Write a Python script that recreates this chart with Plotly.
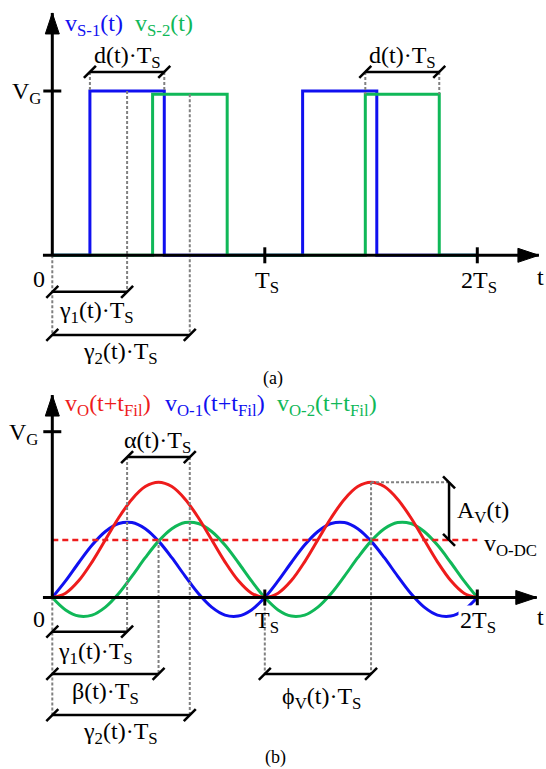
import plotly.graph_objects as go

# ---------------- data ----------------
# panel (a): gate signals (time in units of Ts, amplitude in units of VG)
T_S1 = [0.0, 0.177, 0.527, 1.178, 1.527, 2.0]
V_S1 = [0, 1.0, 0, 1.0, 0, 0]
T_S2 = [0.0, 0.472, 0.823, 1.473, 1.821, 2.0]
V_S2 = [0, 0.98, 0, 0.98, 0, 0]

# panel (b): filtered output voltages
T_W = [0.0, 0.0625, 0.125, 0.1875, 0.25, 0.3125, 0.375, 0.4375, 0.5, 0.5625, 0.625,
       0.6875, 0.75, 0.8125, 0.875, 0.9375, 1.0, 1.0625, 1.125, 1.1875, 1.25, 1.3125,
       1.375, 1.4375, 1.5, 1.5625, 1.625, 1.6875, 1.75, 1.8125, 1.875, 1.9375, 2.0]
V_O1 = [0.000, 0.100, 0.211, 0.316, 0.398, 0.446, 0.452, 0.415, 0.340, 0.240, 0.129,
        0.024, -0.058, -0.106, -0.112, -0.075, 0.000, 0.100, 0.211, 0.316, 0.398, 0.446,
        0.452, 0.415, 0.340, 0.240, 0.129, 0.024, -0.058, -0.106, -0.112, -0.075, 0.000]
V_O2 = [0.000, -0.075, -0.112, -0.106, -0.058, 0.024, 0.129, 0.240, 0.340, 0.415, 0.452,
        0.446, 0.398, 0.316, 0.211, 0.100, 0.000, -0.075, -0.112, -0.106, -0.058, 0.024,
        0.129, 0.240, 0.340, 0.415, 0.452, 0.446, 0.398, 0.316, 0.211, 0.100, 0.000]
V_O = [0.000, 0.026, 0.102, 0.215, 0.348, 0.481, 0.593, 0.669, 0.695, 0.669, 0.593,
       0.481, 0.348, 0.215, 0.102, 0.026, 0.000, 0.026, 0.102, 0.215, 0.348, 0.481,
       0.593, 0.669, 0.695, 0.669, 0.593, 0.481, 0.348, 0.215, 0.102, 0.026, 0.000]
V_DC = 0.3475
V_PEAK = 0.695
T_PEAK = 1.5

GAMMA1 = 0.352
GAMMA2 = 0.647
BETA = 0.5
AV_T = 1.867
X_TICKS = [1.0, 2.0]
X_TICK_LABELS = ["T<sub>S</sub>", "2T<sub>S</sub>"]

# ---------------- style ----------------
BLUE = "#1010f0"
GREEN = "#10b858"
RED = "#ee1c1c"
GRAY = "#808080"
FONT = "Liberation Serif"
FS = 24

fig = go.Figure()

fig.add_trace(go.Scatter(x=T_S1, y=V_S1, mode="lines", line=dict(color=BLUE, width=3, shape="hv"),
                         xaxis="x", yaxis="y"))
fig.add_trace(go.Scatter(x=T_S2, y=V_S2, mode="lines", line=dict(color=GREEN, width=3, shape="hv"),
                         xaxis="x", yaxis="y"))
fig.add_trace(go.Scatter(x=T_W, y=V_O1, mode="lines", line=dict(color=BLUE, width=3, shape="spline"),
                         xaxis="x", yaxis="y2"))
fig.add_trace(go.Scatter(x=T_W, y=V_O2, mode="lines", line=dict(color=GREEN, width=3, shape="spline"),
                         xaxis="x", yaxis="y2"))
fig.add_trace(go.Scatter(x=T_W, y=V_O, mode="lines", line=dict(color=RED, width=3, shape="spline"),
                         xaxis="x", yaxis="y2"))

shapes = []
annos = []


def line(x0, y0, x1, y1, yref, color="black", width=3, dash=None):
    d = dict(type="line", xref="x", yref=yref, x0=x0, y0=y0, x1=x1, y1=y1,
             line=dict(color=color, width=width))
    if dash:
        d["line"]["dash"] = dash
    shapes.append(d)


def gdash(x0, y0, x1, y1, yref):
    line(x0, y0, x1, y1, yref, color=GRAY, width=2, dash="3px,2px")


def pix_line(x, y, yref, dx0, dy0, dx1, dy1, width=2.5):
    shapes.append(dict(type="line", xref="x", yref=yref, xsizemode="pixel", ysizemode="pixel",
                       xanchor=x, yanchor=y, x0=dx0, y0=dy0, x1=dx1, y1=dy1,
                       line=dict(color="black", width=width)))


def pix_path(x, y, yref, path):
    shapes.append(dict(type="path", xref="x", yref=yref, xsizemode="pixel", ysizemode="pixel",
                       xanchor=x, yanchor=y, path=path, fillcolor="black",
                       line=dict(color="black", width=1)))


def dim_h(x0, x1, y, yref):
    line(x0, y, x1, y, yref, width=2.5)
    pix_line(x0, y, yref, -6, -6, 6, 6)
    pix_line(x1, y, yref, -6, -6, 6, 6)


def dim_v(x, y0, y1, yref):
    line(x, y0, x, y1, yref, width=2.5)
    pix_line(x, y0, yref, -6, 6, 6, -6)
    pix_line(x, y1, yref, -6, 6, 6, -6)


def text(x, y, s, yref, color="black", size=FS, xanchor="center", yanchor="middle", bg=None):
    a = dict(x=x, y=y, xref="x", yref=yref, text=s, showarrow=False, xanchor=xanchor,
             yanchor=yanchor, font=dict(family=FONT, size=size, color=color))
    if bg:
        a["bgcolor"] = bg
    annos.append(a)


def axes(yref, ytop, xtip):
    # y axis with arrow
    line(0, 0, 0, ytop, yref)
    pix_path(0, ytop, yref, "M -7,-21 L 7,-21 L 0,0 Z")
    # x axis with arrow
    line(-0.044, 0, xtip, 0, yref)
    pix_path(xtip, 0, yref, "M -21,-7 L -21,7 L 0,0 Z")
    # VG tick
    pix_line(0, 1.0, yref, -9, 0, 9, 0, width=3)
    for xt in X_TICKS:
        pix_line(xt, 0, yref, 0, -8, 0, 8, width=3)


# ---------- panel (a) ----------
ya = "y"
gdash(0, 0, 0, -0.485, ya)
gdash(GAMMA1, 1.0, GAMMA1, -0.222, ya)
gdash(GAMMA2, 0.98, GAMMA2, -0.485, ya)
gdash(T_S1[1], 1.116, T_S1[1], 1.0, ya)
gdash(T_S1[2], 1.116, T_S1[2], 1.0, ya)
gdash(T_S2[3], 1.116, T_S2[3], 0.98, ya)
gdash(T_S2[4], 1.116, T_S2[4], 0.98, ya)
axes(ya, 1.475, 2.29)
dim_h(T_S1[1], T_S1[2], 1.116, ya)
dim_h(T_S2[3], T_S2[4], 1.116, ya)
dim_h(0, GAMMA1, -0.222, ya)
dim_h(0, GAMMA2, -0.485, ya)

text(0.05, 1.40, "v<sub>S-1</sub>(t)", ya, color=BLUE, xanchor="left")
text(0.38, 1.40, "v<sub>S-2</sub>(t)", ya, color=GREEN, xanchor="left")
text(-0.044, 0.985, "V<sub>G</sub>", ya, xanchor="right")
text((T_S1[1] + T_S1[2]) / 2, 1.21, "d(t)·T<sub>S</sub>", ya)
text((T_S2[3] + T_S2[4]) / 2, 1.21, "d(t)·T<sub>S</sub>", ya)
text(-0.063, -0.144, "0", ya)
for xt, lab in zip(X_TICKS, X_TICK_LABELS):
    text(xt + 0.01, -0.163, lab, ya)
text(2.272, -0.13, "t", ya, xanchor="left")
text(0.21, -0.343, "γ<sub>1</sub>(t)·T<sub>S</sub>", ya)
text(0.319, -0.595, "γ<sub>2</sub>(t)·T<sub>S</sub>", ya)
text(1.039, -0.747, "(a)", ya, size=18)

# ---------- panel (b) ----------
yb = "y2"
line(0, V_DC, 2.0, V_DC, yb, color=RED, width=2.5, dash="6px,4px")
gdash(0, 0, 0, -0.709, yb)
gdash(GAMMA1, 0.847, GAMMA1, -0.206, yb)
gdash(BETA, V_DC, BETA, -0.461, yb)
gdash(GAMMA2, 0.847, GAMMA2, -0.709, yb)
gdash(1.0, 0, 1.0, -0.461, yb)
gdash(T_PEAK, V_PEAK, T_PEAK, -0.461, yb)
gdash(T_PEAK, V_PEAK, AV_T, V_PEAK, yb)
axes(yb, 1.221, 2.28)
dim_h(GAMMA1, GAMMA2, 0.847, yb)
dim_h(0, GAMMA1, -0.206, yb)
dim_h(0, BETA, -0.461, yb)
dim_h(0, GAMMA2, -0.709, yb)
dim_h(1.0, T_PEAK, -0.461, yb)
dim_v(AV_T, V_PEAK, V_DC, yb)

text(0.05, 1.161, "v<sub>O</sub>(t+t<sub>Fil</sub>)", yb, color=RED, xanchor="left")
text(0.521, 1.161, "v<sub>O-1</sub>(t+t<sub>Fil</sub>)", yb, color=BLUE, xanchor="left")
text(1.048, 1.161, "v<sub>O-2</sub>(t+t<sub>Fil</sub>)", yb, color=GREEN, xanchor="left")
text(-0.056, 0.985, "V<sub>G</sub>", yb, xanchor="right")
text(0.493, 0.94, "α(t)·T<sub>S</sub>", yb)
text(1.895, 0.516, "A<sub>V</sub>(t)", yb, xanchor="left")
text(2.022, 0.317, "v<sub>O-DC</sub>", yb, xanchor="left")
text(-0.063, -0.13, "0", yb)
text(X_TICKS[0] + 0.01, -0.148, X_TICK_LABELS[0], yb)
text(X_TICKS[1] + 0.003, -0.148, X_TICK_LABELS[1], yb, bg="white")
text(2.27, -0.118, "t", yb, xanchor="left")
text(0.201, -0.333, "γ<sub>1</sub>(t)·T<sub>S</sub>", yb)
text(0.248, -0.576, "β(t)·T<sub>S</sub>", yb)
text(0.319, -0.817, "γ<sub>2</sub>(t)·T<sub>S</sub>", yb)
text(1.269, -0.606, "ϕ<sub>V</sub>(t)·T<sub>S</sub>", yb)
text(1.048, -0.965, "(b)", yb, size=18)

fig.update_layout(
    width=546, height=769,
    margin=dict(l=0, r=0, t=0, b=0),
    paper_bgcolor="white", plot_bgcolor="white",
    showlegend=False,
    xaxis=dict(range=[-0.2461, 2.3233], visible=False, domain=[0, 1], fixedrange=True),
    yaxis=dict(range=[-3.1266, 1.5539], visible=False, domain=[0, 1], fixedrange=True),
    yaxis2=dict(range=[-1.0344, 3.6037], visible=False, domain=[0, 1], overlaying="y",
                fixedrange=True),
    shapes=shapes,
    annotations=annos,
)

fig.write_html("out.html")
